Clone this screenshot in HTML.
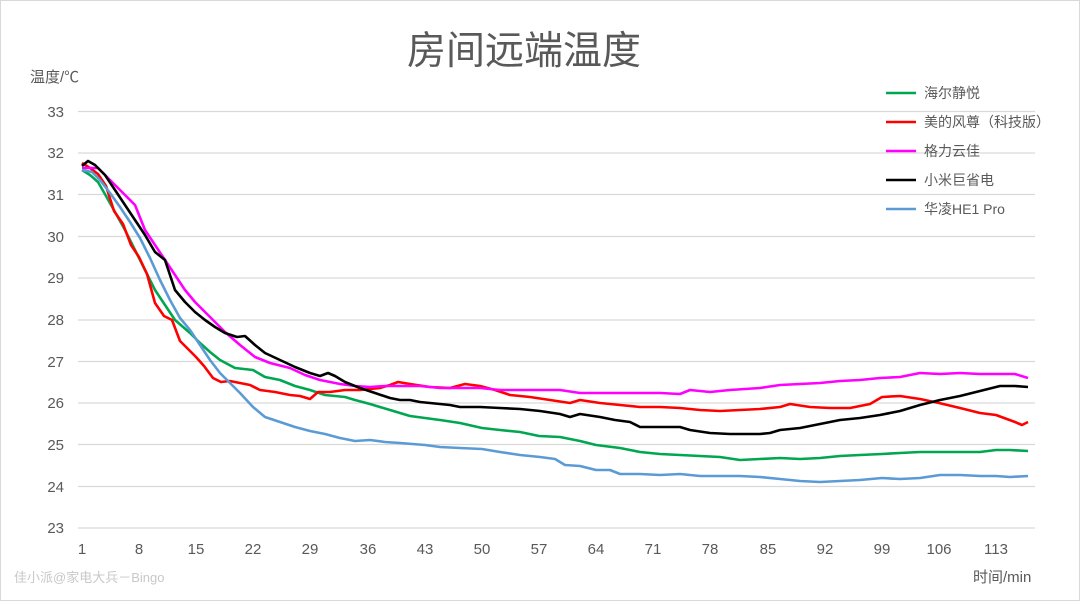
<!DOCTYPE html><html><head><meta charset="utf-8"><style>
body{margin:0;background:#fff}
svg text{font-family:"Liberation Sans","Noto Sans CJK SC",sans-serif;fill:#595959}
</style></head><body>
<svg width="1080" height="601" viewBox="0 0 1080 601" xmlns="http://www.w3.org/2000/svg">
<rect x="0.5" y="0.5" width="1079" height="600" fill="#fff" stroke="#d9d9d9"/>
<text x="524" y="64" font-size="39" text-anchor="middle">房间远端温度</text>
<text x="30" y="82" font-size="15">温度/℃</text>
<g stroke="#d9d9d9" stroke-width="1.3">
<line x1="78" x2="1035" y1="111.5" y2="111.5"/><line x1="78" x2="1035" y1="153" y2="153"/><line x1="78" x2="1035" y1="194.5" y2="194.5"/><line x1="78" x2="1035" y1="236.5" y2="236.5"/><line x1="78" x2="1035" y1="278" y2="278"/><line x1="78" x2="1035" y1="320" y2="320"/><line x1="78" x2="1035" y1="361.5" y2="361.5"/><line x1="78" x2="1035" y1="403" y2="403"/><line x1="78" x2="1035" y1="444.5" y2="444.5"/><line x1="78" x2="1035" y1="486.5" y2="486.5"/><line x1="78" x2="1035" y1="528" y2="528"/>
</g>
<g font-size="15" text-anchor="end">
<text x="64" y="117">33</text><text x="64" y="158">32</text><text x="64" y="200">31</text><text x="64" y="242">30</text><text x="64" y="283">29</text><text x="64" y="325">28</text><text x="64" y="367">27</text><text x="64" y="408">26</text><text x="64" y="450">25</text><text x="64" y="492">24</text><text x="64" y="533">23</text>
</g>
<g font-size="15" text-anchor="middle">
<text x="82" y="554">1</text><text x="139" y="554">8</text><text x="196" y="554">15</text><text x="253" y="554">22</text><text x="310" y="554">29</text><text x="368" y="554">36</text><text x="425" y="554">43</text><text x="482" y="554">50</text><text x="539" y="554">57</text><text x="596" y="554">64</text><text x="653" y="554">71</text><text x="710" y="554">78</text><text x="768" y="554">85</text><text x="825" y="554">92</text><text x="882" y="554">99</text><text x="939" y="554">106</text><text x="996" y="554">113</text>
</g>
<text x="973" y="582" font-size="15">时间/min</text>
<text x="14" y="582" font-size="13" style="fill:#c8c8c8">佳小派@家电大兵－Bingo</text>
<g fill="none" stroke-width="2.6" stroke-linejoin="round">
<polyline stroke="#00a650" points="82,170 90,175 98,182 106,196 115,212 125,230 135,250 145,270 155,290 165,305 175,320 190,333 200,343 210,352 220,360 235,368 253,370 265,377 280,380 295,386 310,390 325,395 345,397 355,400 370,404 390,410 410,416 425,418 440,420 460,423 482,428 500,430 520,432 539,436 560,437 580,441 596,445 620,448 640,452 660,454 680,455 700,456 720,457 740,460 760,459 780,458 800,459 820,458 840,456 860,455 882,454 900,453 920,452 940,452 960,452 980,452 996,450 1010,450 1028,451"/>
<polyline stroke="#ff0000" points="82,163 90,168 98,174 106,186 114,211 123,224 131,245 139,257 147,274 155,303 164,316 172,320 180,341 188,349 196,357 204,366 213,378 221,382 230,381 240,383 250,385 260,390 275,392 290,395 300,396 310,399 318,392 330,392 345,390 360,390 380,388 390,385 398,382 410,384 430,387 450,388 465,384 480,386 495,390 510,395 530,397 550,400 570,403 580,400 600,403 620,405 640,407 660,407 680,408 700,410 720,411 740,410 760,409 780,407 790,404 810,407 830,408 850,408 870,404 882,397 900,396 920,399 939,403 960,408 980,413 996,415 1015,422 1022,425 1028,422"/>
<polyline stroke="#ff00ff" points="82,168 90,168 98,168 105,175 115,185 125,195 135,205 145,230 155,245 165,260 175,275 185,290 195,302 205,312 215,322 225,332 240,345 255,357 270,363 290,368 305,375 320,380 340,384 355,386 370,387 385,386 400,386 420,386 440,388 460,388 480,388 500,390 520,390 540,390 560,390 580,393 600,393 620,393 640,393 660,393 680,394 690,390 710,392 730,390 760,388 780,385 800,384 820,383 840,381 860,380 880,378 900,377 920,373 940,374 960,373 980,374 1000,374 1015,374 1028,378"/>
<polyline stroke="#000" points="82,166 88,161 95,165 105,175 115,190 125,205 135,220 145,235 155,252 165,260 175,290 185,302 195,312 205,320 215,327 225,333 237,337 245,336 255,345 265,353 280,360 295,367 310,373 320,376 328,373 335,376 345,382 360,388 375,393 390,398 400,400 410,400 420,402 440,404 450,405 460,407 480,407 500,408 520,409 540,411 560,414 570,417 580,414 600,417 615,420 630,422 640,427 660,427 680,427 690,430 710,433 730,434 740,434 760,434 770,433 780,430 800,428 820,424 840,420 860,418 880,415 900,411 920,405 940,400 960,396 980,391 1000,386 1015,386 1028,387"/>
<polyline stroke="#5b9bd5" points="82,170 92,172 100,180 110,193 120,207 130,222 140,238 150,258 160,280 170,300 180,318 190,330 200,345 210,360 220,373 230,383 240,393 253,407 265,417 280,422 295,427 310,431 325,434 340,438 355,441 370,440 385,442 400,443 425,445 440,447 460,448 482,449 500,452 520,455 540,457 555,459 565,465 580,466 596,470 610,470 620,474 640,474 660,475 680,474 700,476 720,476 740,476 760,477 780,479 800,481 820,482 840,481 860,480 882,478 900,479 920,478 940,475 960,475 980,476 996,476 1010,477 1028,476"/>
</g>
<g stroke-width="2.6">
<line x1="886" x2="916" y1="93" y2="93" stroke="#00a650"/>
<line x1="886" x2="916" y1="122" y2="122" stroke="#ff0000"/>
<line x1="886" x2="916" y1="151" y2="151" stroke="#ff00ff"/>
<line x1="886" x2="916" y1="180" y2="180" stroke="#000"/>
<line x1="886" x2="916" y1="209" y2="209" stroke="#5b9bd5"/>
</g>
<g font-size="14">
<text x="924" y="98">海尔静悦</text>
<text x="924" y="127">美的风尊（科技版）</text>
<text x="924" y="156">格力云佳</text>
<text x="924" y="185">小米巨省电</text>
<text x="924" y="214">华凌HE1 Pro</text>
</g>
</svg>
</body></html>
